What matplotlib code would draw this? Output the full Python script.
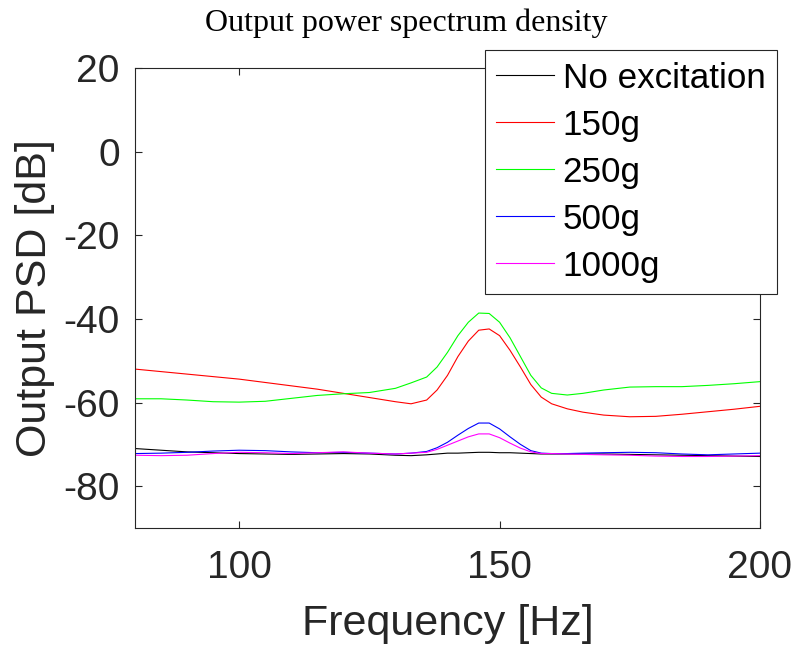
import matplotlib
matplotlib.use("Agg")
import matplotlib.pyplot as plt

freq = [80, 85, 90, 95, 100, 105, 110, 115, 120, 125, 130, 133, 136, 138, 140,
        142, 144, 146, 148, 150, 152, 154, 156, 158, 160, 163, 166, 170, 175,
        180, 185, 190, 195, 200]

psd_none = [-71.0, -71.4, -71.8, -72.0, -72.2, -72.3, -72.4, -72.3, -72.2, -72.3,
            -72.6, -72.7, -72.5, -72.3, -72.1, -72.1, -72.0, -71.9, -71.9, -72.0,
            -72.0, -72.1, -72.2, -72.3, -72.3, -72.3, -72.3, -72.3, -72.4, -72.5,
            -72.6, -72.7, -72.8, -72.9]

psd_150g = [-52.0, -52.6, -53.2, -53.8, -54.4, -55.2, -56.0, -56.8, -57.8, -58.8,
            -59.8, -60.3, -59.4, -57.0, -53.5, -49.0, -45.3, -42.7, -42.4, -44.0,
            -47.5, -51.5, -55.7, -58.7, -60.3, -61.5, -62.3, -63.0, -63.4, -63.3,
            -62.8, -62.2, -61.6, -60.9]

psd_250g = [-59.1, -59.1, -59.4, -59.8, -59.9, -59.7, -59.0, -58.3, -57.9, -57.6,
            -56.6, -55.3, -53.9, -51.5, -48.0, -44.0, -40.8, -38.6, -38.7, -40.8,
            -44.5, -49.0, -53.5, -56.5, -57.8, -58.2, -57.8, -57.0, -56.3, -56.2,
            -56.2, -55.9, -55.5, -55.0]

psd_500g = [-72.2, -72.1, -71.9, -71.6, -71.4, -71.5, -71.8, -72.0, -71.9, -72.1,
            -72.3, -72.1, -71.7, -70.8, -69.5, -67.8, -66.2, -64.9, -64.9, -66.3,
            -68.2, -70.0, -71.5, -72.1, -72.2, -72.2, -72.1, -72.0, -71.9, -72.0,
            -72.3, -72.5, -72.3, -72.1]

psd_1000g = [-72.6, -72.7, -72.6, -72.2, -71.9, -72.0, -72.2, -72.0, -71.8, -72.1,
             -72.3, -72.1, -71.9, -71.2, -70.2, -69.2, -68.2, -67.5, -67.5, -68.4,
             -69.7, -70.9, -71.8, -72.2, -72.2, -72.3, -72.4, -72.5, -72.6, -72.8,
             -72.9, -72.9, -72.8, -72.7]

labels = ["No excitation", "150g", "250g", "500g", "1000g"]
colors = ["#000000", "#FF0000", "#00FF00", "#0000FF", "#FF00FF"]
series = [psd_none, psd_150g, psd_250g, psd_500g, psd_1000g]

xticks = [100, 150, 200]
yticks = [-80, -60, -40, -20, 0, 20]

axc = "#262626"
plt.rcParams["font.family"] = ["Liberation Sans", "DejaVu Sans"]

fig = plt.figure(figsize=(7.95, 6.47), dpi=100)
ax = fig.add_axes([135 / 795, 1 - 528 / 647, 625 / 795, 460 / 647])

for s, c, l in zip(series, colors, labels):
    ax.plot(freq, s, color=c, lw=0.8, label=l)

ax.set_xlim(80, 200)
ax.set_ylim(-90, 20)
ax.set_xticks(xticks)
ax.set_yticks(yticks)
ax.set_xticklabels([str(v) for v in xticks])
ax.set_yticklabels([str(v) for v in yticks])
ax.tick_params(direction="in", length=5, width=0.8, colors=axc, labelsize=28,
               top=True, right=True)
ax.tick_params(axis="x", pad=16)
ax.tick_params(axis="y", pad=11)
for sp in ax.spines.values():
    sp.set_color(axc)
    sp.set_linewidth(0.8)

ax.set_xlabel("Frequency [Hz]", fontsize=31, color=axc, labelpad=13)
ax.set_ylabel("Output PSD [dB]", fontsize=31, color=axc, labelpad=6)

fig.text(406 / 795, 1 - 23 / 647, "Output power spectrum density",
         family=["Liberation Serif", "DejaVu Serif"], fontsize=23,
         ha="center", va="center", color="#000000")

leg = ax.legend(loc="upper right", bbox_to_anchor=(777 / 795, 1 - 50 / 647),
                bbox_transform=fig.transFigure, fontsize=25.2, frameon=True,
                fancybox=False, framealpha=1, edgecolor=axc, borderaxespad=0,
                handlelength=1.65, handletextpad=0.25, labelspacing=0.4,
                borderpad=0.33)
leg.get_frame().set_linewidth(0.8)

fig.savefig("out.png", dpi=100)
